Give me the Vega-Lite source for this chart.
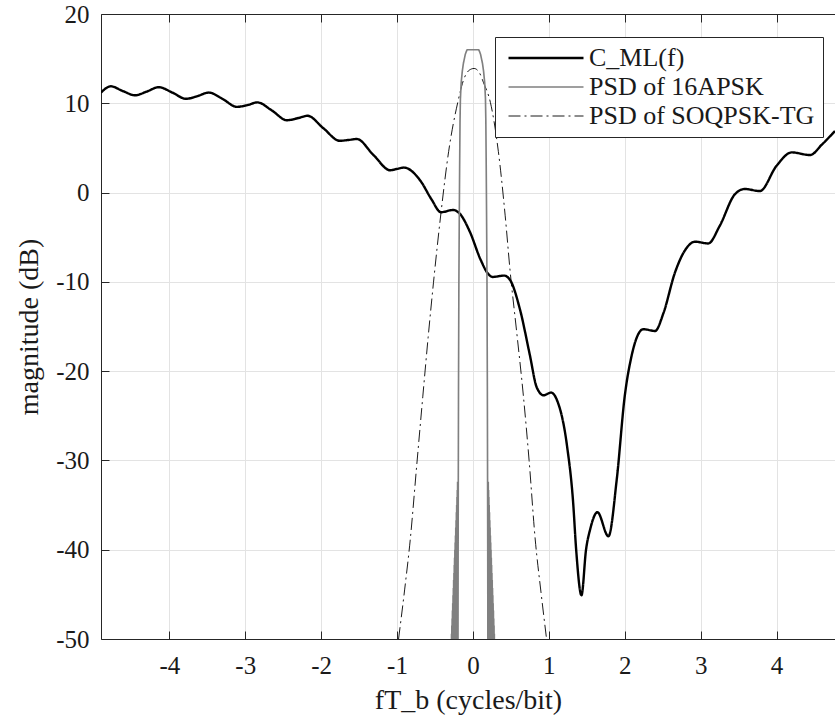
{
  "$schema": "https://vega.github.io/schema/vega-lite/v6.json",
  "width": 734,
  "height": 625,
  "autosize": {"type": "none"},
  "padding": {"left": 101, "top": 14, "right": 0, "bottom": 87},
  "background": "white",
  "config": {
    "view": {"stroke": null},
    "font": "Liberation Serif",
    "axis": {
      "domainColor": "#262626",
      "domainWidth": 1,
      "tickColor": "#262626",
      "tickSize": -8,
      "tickWidth": 1,
      "gridColor": "#e3e3e3",
      "gridWidth": 1,
      "labelFont": "Liberation Serif",
      "labelFontSize": 25,
      "labelColor": "#1a1a1a",
      "titleFont": "Liberation Serif",
      "titleFontSize": 28,
      "titleColor": "#1a1a1a",
      "titleFontWeight": "normal"
    },
    "legend": {
      "orient": "none",
      "legendX": 394,
      "legendY": 23,
      "strokeColor": "#262626",
      "fillColor": "white",
      "padding": 8,
      "symbolType": "M-1,0H9",
      "symbolSize": 225,
      "labelFont": "Liberation Serif",
      "labelFontSize": 26,
      "labelColor": "#1a1a1a",
      "labelLimit": 500,
      "labelOffset": 60,
      "rowPadding": 3,
      "title": null
    }
  },
  "data": {
    "values": [
      {"series": "C_ML(f)", "x": -4.90, "y": 11.2},
      {"series": "C_ML(f)", "x": -4.77, "y": 11.9},
      {"series": "C_ML(f)", "x": -4.62, "y": 11.4},
      {"series": "C_ML(f)", "x": -4.45, "y": 10.9},
      {"series": "C_ML(f)", "x": -4.30, "y": 11.3},
      {"series": "C_ML(f)", "x": -4.14, "y": 11.8},
      {"series": "C_ML(f)", "x": -3.96, "y": 11.2},
      {"series": "C_ML(f)", "x": -3.78, "y": 10.5},
      {"series": "C_ML(f)", "x": -3.63, "y": 10.8},
      {"series": "C_ML(f)", "x": -3.48, "y": 11.2},
      {"series": "C_ML(f)", "x": -3.30, "y": 10.5},
      {"series": "C_ML(f)", "x": -3.11, "y": 9.6},
      {"series": "C_ML(f)", "x": -2.97, "y": 9.8},
      {"series": "C_ML(f)", "x": -2.84, "y": 10.1},
      {"series": "C_ML(f)", "x": -2.65, "y": 9.2},
      {"series": "C_ML(f)", "x": -2.45, "y": 8.1},
      {"series": "C_ML(f)", "x": -2.30, "y": 8.35},
      {"series": "C_ML(f)", "x": -2.18, "y": 8.6},
      {"series": "C_ML(f)", "x": -1.97, "y": 7.2},
      {"series": "C_ML(f)", "x": -1.755, "y": 5.8},
      {"series": "C_ML(f)", "x": -1.63, "y": 5.9},
      {"series": "C_ML(f)", "x": -1.53, "y": 6.0},
      {"series": "C_ML(f)", "x": -1.31, "y": 4.2},
      {"series": "C_ML(f)", "x": -1.09, "y": 2.5},
      {"series": "C_ML(f)", "x": -1.00, "y": 2.65},
      {"series": "C_ML(f)", "x": -0.91, "y": 2.8},
      {"series": "C_ML(f)", "x": -0.69, "y": 1.3},
      {"series": "C_ML(f)", "x": -0.55, "y": -0.7},
      {"series": "C_ML(f)", "x": -0.42, "y": -2.2},
      {"series": "C_ML(f)", "x": -0.26, "y": -1.95},
      {"series": "C_ML(f)", "x": -0.17, "y": -2.4},
      {"series": "C_ML(f)", "x": -0.04, "y": -4.4},
      {"series": "C_ML(f)", "x": 0.10, "y": -7.5},
      {"series": "C_ML(f)", "x": 0.20, "y": -9.1},
      {"series": "C_ML(f)", "x": 0.26, "y": -9.45},
      {"series": "C_ML(f)", "x": 0.41, "y": -9.3},
      {"series": "C_ML(f)", "x": 0.49, "y": -9.8},
      {"series": "C_ML(f)", "x": 0.62, "y": -13.1},
      {"series": "C_ML(f)", "x": 0.75, "y": -18.2},
      {"series": "C_ML(f)", "x": 0.84, "y": -21.8},
      {"series": "C_ML(f)", "x": 0.93, "y": -22.7},
      {"series": "C_ML(f)", "x": 1.03, "y": -22.4},
      {"series": "C_ML(f)", "x": 1.105, "y": -23.2},
      {"series": "C_ML(f)", "x": 1.24, "y": -28.4},
      {"series": "C_ML(f)", "x": 1.32, "y": -34.7},
      {"series": "C_ML(f)", "x": 1.36, "y": -40.0},
      {"series": "C_ML(f)", "x": 1.43, "y": -45.1},
      {"series": "C_ML(f)", "x": 1.49, "y": -40.0},
      {"series": "C_ML(f)", "x": 1.545, "y": -37.7},
      {"series": "C_ML(f)", "x": 1.64, "y": -35.8},
      {"series": "C_ML(f)", "x": 1.785, "y": -38.5},
      {"series": "C_ML(f)", "x": 1.895, "y": -32.1},
      {"series": "C_ML(f)", "x": 2.00, "y": -22.8},
      {"series": "C_ML(f)", "x": 2.09, "y": -18.3},
      {"series": "C_ML(f)", "x": 2.245, "y": -15.3},
      {"series": "C_ML(f)", "x": 2.40, "y": -15.5},
      {"series": "C_ML(f)", "x": 2.51, "y": -13.5},
      {"series": "C_ML(f)", "x": 2.66, "y": -9.0},
      {"series": "C_ML(f)", "x": 2.815, "y": -6.2},
      {"series": "C_ML(f)", "x": 2.925, "y": -5.5},
      {"series": "C_ML(f)", "x": 3.10, "y": -5.7},
      {"series": "C_ML(f)", "x": 3.25, "y": -3.75},
      {"series": "C_ML(f)", "x": 3.45, "y": -0.2},
      {"series": "C_ML(f)", "x": 3.58, "y": 0.4},
      {"series": "C_ML(f)", "x": 3.78, "y": 0.17},
      {"series": "C_ML(f)", "x": 4.00, "y": 3.0},
      {"series": "C_ML(f)", "x": 4.20, "y": 4.5},
      {"series": "C_ML(f)", "x": 4.44, "y": 4.2},
      {"series": "C_ML(f)", "x": 4.60, "y": 5.4},
      {"series": "C_ML(f)", "x": 4.77, "y": 6.9},

      {"series": "PSD of 16APSK", "x": -0.284, "y": -70},
      {"series": "PSD of 16APSK", "x": -0.282, "y": -49.4},
      {"series": "PSD of 16APSK", "x": -0.280, "y": -70},
      {"series": "PSD of 16APSK", "x": -0.278, "y": -48.5},
      {"series": "PSD of 16APSK", "x": -0.276, "y": -70},
      {"series": "PSD of 16APSK", "x": -0.274, "y": -47.7},
      {"series": "PSD of 16APSK", "x": -0.272, "y": -70},
      {"series": "PSD of 16APSK", "x": -0.270, "y": -46.8},
      {"series": "PSD of 16APSK", "x": -0.268, "y": -70},
      {"series": "PSD of 16APSK", "x": -0.266, "y": -46.0},
      {"series": "PSD of 16APSK", "x": -0.264, "y": -70},
      {"series": "PSD of 16APSK", "x": -0.262, "y": -45.1},
      {"series": "PSD of 16APSK", "x": -0.260, "y": -70},
      {"series": "PSD of 16APSK", "x": -0.258, "y": -44.3},
      {"series": "PSD of 16APSK", "x": -0.256, "y": -70},
      {"series": "PSD of 16APSK", "x": -0.254, "y": -43.4},
      {"series": "PSD of 16APSK", "x": -0.252, "y": -70},
      {"series": "PSD of 16APSK", "x": -0.250, "y": -42.6},
      {"series": "PSD of 16APSK", "x": -0.248, "y": -70},
      {"series": "PSD of 16APSK", "x": -0.246, "y": -41.7},
      {"series": "PSD of 16APSK", "x": -0.244, "y": -70},
      {"series": "PSD of 16APSK", "x": -0.242, "y": -40.9},
      {"series": "PSD of 16APSK", "x": -0.240, "y": -70},
      {"series": "PSD of 16APSK", "x": -0.238, "y": -40.0},
      {"series": "PSD of 16APSK", "x": -0.236, "y": -70},
      {"series": "PSD of 16APSK", "x": -0.234, "y": -39.2},
      {"series": "PSD of 16APSK", "x": -0.232, "y": -70},
      {"series": "PSD of 16APSK", "x": -0.230, "y": -38.4},
      {"series": "PSD of 16APSK", "x": -0.228, "y": -70},
      {"series": "PSD of 16APSK", "x": -0.226, "y": -37.5},
      {"series": "PSD of 16APSK", "x": -0.224, "y": -70},
      {"series": "PSD of 16APSK", "x": -0.222, "y": -36.7},
      {"series": "PSD of 16APSK", "x": -0.220, "y": -70},
      {"series": "PSD of 16APSK", "x": -0.218, "y": -35.8},
      {"series": "PSD of 16APSK", "x": -0.216, "y": -70},
      {"series": "PSD of 16APSK", "x": -0.214, "y": -35.0},
      {"series": "PSD of 16APSK", "x": -0.212, "y": -70},
      {"series": "PSD of 16APSK", "x": -0.210, "y": -34.1},
      {"series": "PSD of 16APSK", "x": -0.208, "y": -70},
      {"series": "PSD of 16APSK", "x": -0.206, "y": -33.3},
      {"series": "PSD of 16APSK", "x": -0.204, "y": -70},
      {"series": "PSD of 16APSK", "x": -0.202, "y": -32.4},
      {"series": "PSD of 16APSK", "x": -0.200, "y": -70},
      {"series": "PSD of 16APSK", "x": -0.195, "y": -40},
      {"series": "PSD of 16APSK", "x": -0.190, "y": -22},
      {"series": "PSD of 16APSK", "x": -0.185, "y": -10},
      {"series": "PSD of 16APSK", "x": -0.180, "y": -3},
      {"series": "PSD of 16APSK", "x": -0.175, "y": 3},
      {"series": "PSD of 16APSK", "x": -0.170, "y": 8},
      {"series": "PSD of 16APSK", "x": -0.165, "y": 10.5},
      {"series": "PSD of 16APSK", "x": -0.155, "y": 12.3},
      {"series": "PSD of 16APSK", "x": -0.140, "y": 13.6},
      {"series": "PSD of 16APSK", "x": -0.125, "y": 14.5},
      {"series": "PSD of 16APSK", "x": -0.100, "y": 15.5},
      {"series": "PSD of 16APSK", "x": -0.080, "y": 15.95},
      {"series": "PSD of 16APSK", "x": -0.070, "y": 16},
      {"series": "PSD of 16APSK", "x": 0.070, "y": 16},
      {"series": "PSD of 16APSK", "x": 0.080, "y": 15.95},
      {"series": "PSD of 16APSK", "x": 0.100, "y": 15.5},
      {"series": "PSD of 16APSK", "x": 0.125, "y": 14.5},
      {"series": "PSD of 16APSK", "x": 0.140, "y": 13.6},
      {"series": "PSD of 16APSK", "x": 0.155, "y": 12.3},
      {"series": "PSD of 16APSK", "x": 0.165, "y": 10.5},
      {"series": "PSD of 16APSK", "x": 0.170, "y": 8},
      {"series": "PSD of 16APSK", "x": 0.175, "y": 3},
      {"series": "PSD of 16APSK", "x": 0.180, "y": -3},
      {"series": "PSD of 16APSK", "x": 0.185, "y": -10},
      {"series": "PSD of 16APSK", "x": 0.190, "y": -22},
      {"series": "PSD of 16APSK", "x": 0.195, "y": -40},
      {"series": "PSD of 16APSK", "x": 0.200, "y": -70},
      {"series": "PSD of 16APSK", "x": 0.202, "y": -32.4},
      {"series": "PSD of 16APSK", "x": 0.204, "y": -70},
      {"series": "PSD of 16APSK", "x": 0.206, "y": -33.3},
      {"series": "PSD of 16APSK", "x": 0.208, "y": -70},
      {"series": "PSD of 16APSK", "x": 0.210, "y": -34.1},
      {"series": "PSD of 16APSK", "x": 0.212, "y": -70},
      {"series": "PSD of 16APSK", "x": 0.214, "y": -35.0},
      {"series": "PSD of 16APSK", "x": 0.216, "y": -70},
      {"series": "PSD of 16APSK", "x": 0.218, "y": -35.8},
      {"series": "PSD of 16APSK", "x": 0.220, "y": -70},
      {"series": "PSD of 16APSK", "x": 0.222, "y": -36.7},
      {"series": "PSD of 16APSK", "x": 0.224, "y": -70},
      {"series": "PSD of 16APSK", "x": 0.226, "y": -37.5},
      {"series": "PSD of 16APSK", "x": 0.228, "y": -70},
      {"series": "PSD of 16APSK", "x": 0.230, "y": -38.4},
      {"series": "PSD of 16APSK", "x": 0.232, "y": -70},
      {"series": "PSD of 16APSK", "x": 0.234, "y": -39.2},
      {"series": "PSD of 16APSK", "x": 0.236, "y": -70},
      {"series": "PSD of 16APSK", "x": 0.238, "y": -40.0},
      {"series": "PSD of 16APSK", "x": 0.240, "y": -70},
      {"series": "PSD of 16APSK", "x": 0.242, "y": -40.9},
      {"series": "PSD of 16APSK", "x": 0.244, "y": -70},
      {"series": "PSD of 16APSK", "x": 0.246, "y": -41.7},
      {"series": "PSD of 16APSK", "x": 0.248, "y": -70},
      {"series": "PSD of 16APSK", "x": 0.250, "y": -42.6},
      {"series": "PSD of 16APSK", "x": 0.252, "y": -70},
      {"series": "PSD of 16APSK", "x": 0.254, "y": -43.4},
      {"series": "PSD of 16APSK", "x": 0.256, "y": -70},
      {"series": "PSD of 16APSK", "x": 0.258, "y": -44.3},
      {"series": "PSD of 16APSK", "x": 0.260, "y": -70},
      {"series": "PSD of 16APSK", "x": 0.262, "y": -45.1},
      {"series": "PSD of 16APSK", "x": 0.264, "y": -70},
      {"series": "PSD of 16APSK", "x": 0.266, "y": -46.0},
      {"series": "PSD of 16APSK", "x": 0.268, "y": -70},
      {"series": "PSD of 16APSK", "x": 0.270, "y": -46.8},
      {"series": "PSD of 16APSK", "x": 0.272, "y": -70},
      {"series": "PSD of 16APSK", "x": 0.274, "y": -47.7},
      {"series": "PSD of 16APSK", "x": 0.276, "y": -70},
      {"series": "PSD of 16APSK", "x": 0.278, "y": -48.5},
      {"series": "PSD of 16APSK", "x": 0.280, "y": -70},
      {"series": "PSD of 16APSK", "x": 0.282, "y": -49.4},
      {"series": "PSD of 16APSK", "x": 0.284, "y": -70},

      {"series": "PSD of SOQPSK-TG", "x": -0.98, "y": -50},
      {"series": "PSD of SOQPSK-TG", "x": -0.90, "y": -44.5},
      {"series": "PSD of SOQPSK-TG", "x": -0.825, "y": -38.8},
      {"series": "PSD of SOQPSK-TG", "x": -0.74, "y": -30.5},
      {"series": "PSD of SOQPSK-TG", "x": -0.66, "y": -22.8},
      {"series": "PSD of SOQPSK-TG", "x": -0.59, "y": -16.2},
      {"series": "PSD of SOQPSK-TG", "x": -0.52, "y": -10.1},
      {"series": "PSD of SOQPSK-TG", "x": -0.42, "y": -2.2},
      {"series": "PSD of SOQPSK-TG", "x": -0.32, "y": 4.6},
      {"series": "PSD of SOQPSK-TG", "x": -0.20, "y": 10.1},
      {"series": "PSD of SOQPSK-TG", "x": -0.12, "y": 12.7},
      {"series": "PSD of SOQPSK-TG", "x": -0.05, "y": 13.7},
      {"series": "PSD of SOQPSK-TG", "x": 0.015, "y": 13.9},
      {"series": "PSD of SOQPSK-TG", "x": 0.08, "y": 13.5},
      {"series": "PSD of SOQPSK-TG", "x": 0.14, "y": 12.3},
      {"series": "PSD of SOQPSK-TG", "x": 0.23, "y": 10.1},
      {"series": "PSD of SOQPSK-TG", "x": 0.335, "y": 4.6},
      {"series": "PSD of SOQPSK-TG", "x": 0.425, "y": -2.6},
      {"series": "PSD of SOQPSK-TG", "x": 0.49, "y": -8.8},
      {"series": "PSD of SOQPSK-TG", "x": 0.575, "y": -15.5},
      {"series": "PSD of SOQPSK-TG", "x": 0.665, "y": -22.8},
      {"series": "PSD of SOQPSK-TG", "x": 0.74, "y": -30.0},
      {"series": "PSD of SOQPSK-TG", "x": 0.82, "y": -38.8},
      {"series": "PSD of SOQPSK-TG", "x": 0.90, "y": -45.0},
      {"series": "PSD of SOQPSK-TG", "x": 0.97, "y": -50}
    ]
  },
  "resolve": {"axis": {"x": "independent", "y": "independent"}},
  "layer": [
    {
      "transform": [{"filter": "datum.series !== 'PSD of 16APSK'"}],
      "mark": {"type": "line", "interpolate": "monotone", "clip": true},
      "encoding": {
        "x": {"field": "x", "type": "quantitative",
              "scale": {"domain": [-4.9, 4.77], "nice": false, "zero": false},
              "axis": {"orient": "bottom", "values": [-4, -3, -2, -1, 0, 1, 2, 3, 4], "labelExpr": "'' + datum.value", "labelPadding": 22, "title": "fT_b (cycles/bit)", "titlePadding": 8, "grid": true}},
        "y": {"field": "y", "type": "quantitative",
              "scale": {"domain": [-50, 20], "nice": false, "zero": false},
              "axis": {"orient": "left", "values": [-50, -40, -30, -20, -10, 0, 10, 20], "labelExpr": "'' + datum.value", "labelPadding": 20, "title": "magnitude (dB)", "titlePadding": 12, "grid": true}},
        "color": {"field": "series", "type": "nominal",
                  "scale": {"domain": ["C_ML(f)", "PSD of 16APSK", "PSD of SOQPSK-TG"], "range": ["#000000", "#808080", "#000000"]}},
        "strokeWidth": {"field": "series", "type": "nominal",
                  "scale": {"domain": ["C_ML(f)", "PSD of 16APSK", "PSD of SOQPSK-TG"], "range": [2.4, 0.9, 1.2]}},
        "strokeDash": {"field": "series", "type": "nominal",
                  "scale": {"domain": ["C_ML(f)", "PSD of 16APSK", "PSD of SOQPSK-TG"], "range": [[1, 0], [1, 0], [12, 4, 2, 4]]}}
      }
    },
    {
      "transform": [{"filter": "datum.series === 'PSD of 16APSK'"}],
      "mark": {"type": "line", "interpolate": "linear", "clip": true},
      "encoding": {
        "x": {"field": "x", "type": "quantitative",
              "scale": {"domain": [-4.9, 4.77], "nice": false, "zero": false},
              "axis": {"orient": "top", "values": [-4, -3, -2, -1, 0, 1, 2, 3, 4], "labels": false, "title": null, "grid": false}},
        "y": {"field": "y", "type": "quantitative",
              "scale": {"domain": [-50, 20], "nice": false, "zero": false},
              "axis": null},
        "color": {"field": "series", "type": "nominal",
                  "scale": {"domain": ["C_ML(f)", "PSD of 16APSK", "PSD of SOQPSK-TG"], "range": ["#000000", "#808080", "#000000"]}},
        "strokeWidth": {"field": "series", "type": "nominal",
                  "scale": {"domain": ["C_ML(f)", "PSD of 16APSK", "PSD of SOQPSK-TG"], "range": [2.4, 0.9, 1.2]}},
        "strokeDash": {"field": "series", "type": "nominal",
                  "scale": {"domain": ["C_ML(f)", "PSD of 16APSK", "PSD of SOQPSK-TG"], "range": [[1, 0], [1, 0], [12, 4, 2, 4]]}}
      }
    }
  ]
}
